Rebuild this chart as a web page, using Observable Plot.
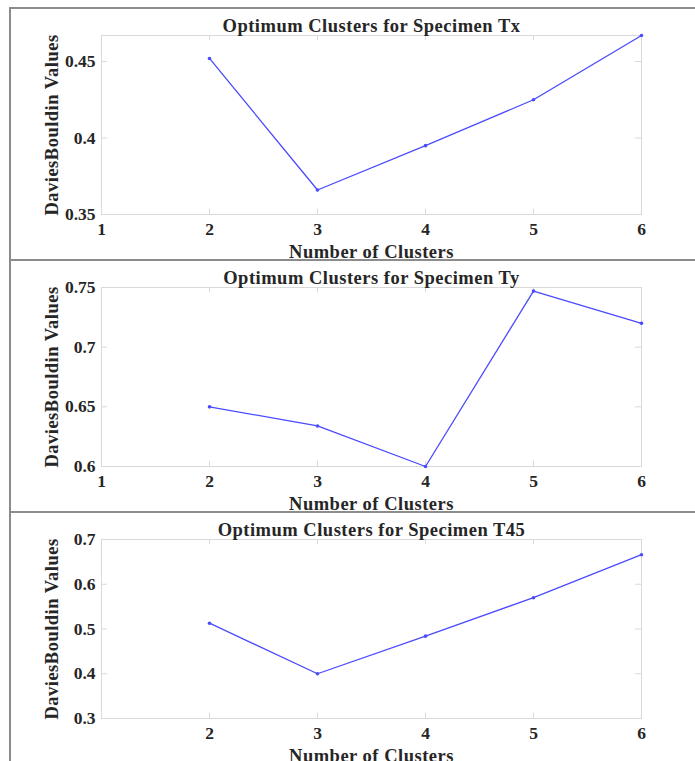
<!DOCTYPE html>
<html>
<head>
<meta charset="utf-8">
<script src="https://cdn.jsdelivr.net/npm/d3@7"></script>
<script src="https://cdn.jsdelivr.net/npm/@observablehq/plot@0.6"></script>
<style>
  html, body { margin: 0; padding: 0; background: #fff; }
  body { width: 695px; height: 761px; position: relative; overflow: hidden; }
  .hline { position: absolute; left: 9px; width: 686px; height: 2px; background: #8c8c8c; }
  .vline { position: absolute; left: 9px; top: 7px; width: 2px; height: 760px; background: #8c8c8c; }
  .panel { position: absolute; left: 11px; }
  svg text { fill: #262626; }
</style>
</head>
<body>
<div class="hline" style="top:7px"></div>
<div class="hline" style="top:259px"></div>
<div class="hline" style="top:511px"></div>
<div class="vline"></div>
<div class="panel" id="p1" style="top:9px"></div>
<div class="panel" id="p2" style="top:261px"></div>
<div class="panel" id="p3" style="top:513px"></div>
<script>
// Data
const clusters = [2, 3, 4, 5, 6];
const valuesTx = [0.452, 0.366, 0.395, 0.425, 0.467];
const valuesTy = [0.650, 0.634, 0.600, 0.747, 0.720];
const valuesT45 = [0.513, 0.400, 0.484, 0.570, 0.666];

const titles = ["Optimum Clusters for Specimen Tx", "Optimum Clusters for Specimen Ty", "Optimum Clusters for Specimen T45"];
const yDomains = [[0.35, 0.467], [0.6, 0.75], [0.3, 0.7]];
const yTicks = [[0.35, 0.4, 0.45], [0.6, 0.65, 0.7, 0.75], [0.3, 0.4, 0.5, 0.6, 0.7]];
const yTickLabels = [["0.35", "0.4", "0.45"], ["0.6", "0.65", "0.7", "0.75"], ["0.3", "0.4", "0.5", "0.6", "0.7"]];
const xTicks = [[1, 2, 3, 4, 5, 6], [1, 2, 3, 4, 5, 6], [2, 3, 4, 5, 6]];
const xLabel = "Number of Clusters";
const yLabel = "DaviesBouldin Values";
const series = [valuesTx, valuesTy, valuesT45];

const FONT = "'Liberation Serif', 'Times New Roman', serif";
const frameColor = "#d9d9d9";
const lineColor = "#4a4aff";

function panel(i) {
  const data = clusters.map((c, k) => ({x: c, y: series[i][k]}));
  const yt = yTicks[i];
  const ylab = new Map(yt.map((v, k) => [v, yTickLabels[i][k]]));
  const [y0, y1] = yDomains[i];
  const tickLen = (y1 - y0) * 0.03;
  const xLen = 5 * 0.011;
  return Plot.plot({
    width: 684,
    height: 250,
    marginLeft: 90,
    marginRight: 54,
    marginTop: 26,
    marginBottom: 45,
    style: {fontFamily: FONT, fontWeight: "bold", background: "transparent", overflow: "visible"},
    x: {domain: [1, 6]},
    y: {domain: yDomains[i]},
    marks: [
      Plot.frame({stroke: frameColor, strokeWidth: 1}),
      // inner ticks on bottom/top edges
      Plot.ruleX(xTicks[i], {y1: y0, y2: y0 + tickLen, stroke: frameColor}),
      Plot.ruleX(xTicks[i], {y1: y1, y2: y1 - tickLen, stroke: frameColor}),
      // inner ticks on left/right edges
      Plot.ruleY(yt, {x1: 1, x2: 1 + xLen, stroke: frameColor}),
      Plot.ruleY(yt, {x1: 6, x2: 6 - xLen, stroke: frameColor}),
      Plot.axisX({ticks: xTicks[i], tickSize: 0, tickPadding: 8, fontSize: 17.5, fontWeight: "bold", label: null, tickFormat: d => String(d)}),
      Plot.axisY({ticks: yt, tickSize: 0, tickPadding: 6, fontSize: 17.5, fontWeight: "bold", label: null, tickFormat: d => ylab.get(d)}),
      Plot.line(data, {x: "x", y: "y", stroke: lineColor, strokeWidth: 1.3}),
      Plot.dot(data, {x: "x", y: "y", r: 1.8, fill: lineColor, stroke: null}),
      Plot.text([titles[i]], {frameAnchor: "top", textAnchor: "middle", dy: -4, lineAnchor: "bottom", fontSize: 18.5, fontWeight: "bold"}),
      Plot.text([xLabel], {frameAnchor: "bottom", textAnchor: "middle", dy: 43, lineAnchor: "bottom", fontSize: 18.5, fontWeight: "bold"}),
      Plot.text([yLabel], {frameAnchor: "left", textAnchor: "middle", dx: -44, rotate: -90, lineAnchor: "bottom", fontSize: 18.5, fontWeight: "bold", lineWidth: Infinity})
    ]
  });
}

["p1", "p2", "p3"].forEach((id, i) => {
  const svg = panel(i);
  svg.querySelectorAll("text").forEach(t => {
    const txt = t.textContent;
    if (txt === xLabel || txt === yLabel || titles.includes(txt)) t.style.letterSpacing = "0.5px";
  });
  document.getElementById(id).appendChild(svg);
});
</script>
</body>
</html>
